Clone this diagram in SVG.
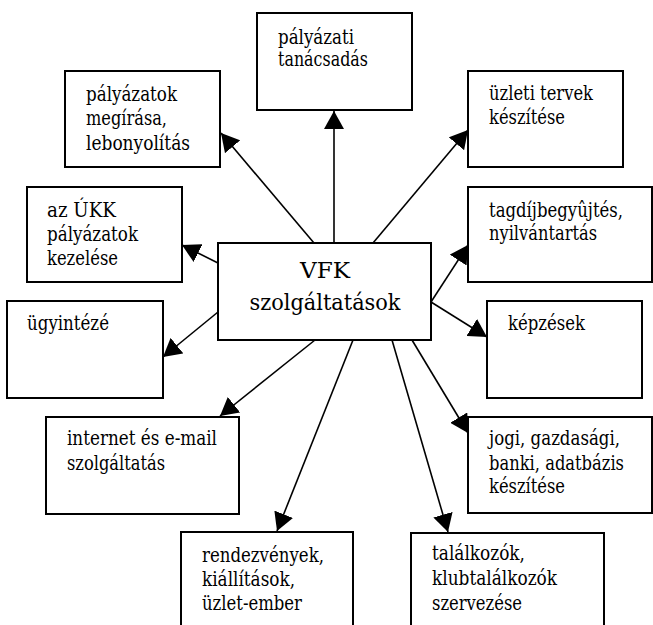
<svg xmlns="http://www.w3.org/2000/svg" width="653" height="625" viewBox="0 0 653 625">
<style>
.box{fill:#fff;stroke:#000;stroke-width:2}
text{font-family:'DejaVu Serif','Liberation Serif',serif;fill:#000}
.t{font-size:19.5px}
.big{font-size:23px;text-anchor:middle}
.c line{stroke:#000;stroke-width:1.6;marker-end:url(#ah)}
</style>
<defs>
<marker id="ah" markerUnits="userSpaceOnUse" markerWidth="19" markerHeight="20" refX="18" refY="10" orient="auto" viewBox="0 0 19 20">
<path d="M0,0 L18,10 L0,20 z" fill="#000"/>
</marker>
</defs>
<rect width="653" height="625" fill="#fff"/>
<g class="c" id="connectors">
<line x1="334" y1="243" x2="334" y2="111"/>
<line x1="373" y1="243" x2="468" y2="130"/>
<line x1="314" y1="243" x2="221" y2="133"/>
<line x1="218" y1="263" x2="182" y2="245"/>
<line x1="218" y1="312" x2="163" y2="357"/>
<line x1="315" y1="340" x2="220" y2="416"/>
<line x1="353" y1="340" x2="277" y2="531"/>
<line x1="392" y1="340" x2="448" y2="532"/>
<line x1="412" y1="340" x2="468" y2="433"/>
<line x1="431" y1="302" x2="487" y2="337"/>
<line x1="431" y1="302" x2="468" y2="245"/>
</g>
<g id="center">
<rect class="box" x="218" y="243" width="213" height="97"/>
<text class="big" x="325" y="278" textLength="50" lengthAdjust="spacingAndGlyphs">VFK</text>
<text class="big" x="325" y="310" textLength="151" lengthAdjust="spacingAndGlyphs">szolgáltatások</text>
</g>
<g id="tanacsadas">
<rect class="box" x="257" y="13" width="155" height="97"/>
<text class="t" x="278" y="44" textLength="76" lengthAdjust="spacingAndGlyphs">pályázati</text>
<text class="t" x="278" y="66" textLength="90" lengthAdjust="spacingAndGlyphs">tanácsadás</text>
</g>
<g id="megirasa">
<rect class="box" x="65" y="71" width="155" height="96"/>
<text class="t" x="86" y="101" textLength="91" lengthAdjust="spacingAndGlyphs">pályázatok</text>
<text class="t" x="86" y="125" textLength="81" lengthAdjust="spacingAndGlyphs">megírása,</text>
<text class="t" x="86" y="150" textLength="104" lengthAdjust="spacingAndGlyphs">lebonyolítás</text>
</g>
<g id="uzleti">
<rect class="box" x="468" y="71" width="155" height="96"/>
<text class="t" x="489" y="100" textLength="104" lengthAdjust="spacingAndGlyphs">üzleti tervek</text>
<text class="t" x="489" y="124" textLength="76" lengthAdjust="spacingAndGlyphs">készítése</text>
</g>
<g id="ukk">
<rect class="box" x="27" y="187" width="155" height="95"/>
<text class="t" x="47" y="217" textLength="69" lengthAdjust="spacingAndGlyphs">az ÚKK</text>
<text class="t" x="47" y="241" textLength="91" lengthAdjust="spacingAndGlyphs">pályázatok</text>
<text class="t" x="47" y="265" textLength="71" lengthAdjust="spacingAndGlyphs">kezelése</text>
</g>
<g id="tagdij">
<rect class="box" x="468" y="187" width="184" height="95"/>
<text class="t" x="489" y="217" textLength="134" lengthAdjust="spacingAndGlyphs">tagdíjbegyûjtés,</text>
<text class="t" x="489" y="240" textLength="108" lengthAdjust="spacingAndGlyphs">nyilvántartás</text>
</g>
<g id="ugyintezes">
<rect class="box" x="7" y="301" width="156" height="97"/>
<text class="t" x="27" y="330" textLength="82" lengthAdjust="spacingAndGlyphs">ügyintézé</text>
</g>
<g id="kepzesek">
<rect class="box" x="487" y="301" width="155" height="97"/>
<text class="t" x="508" y="330" textLength="77" lengthAdjust="spacingAndGlyphs">képzések</text>
</g>
<g id="internet">
<rect class="box" x="46" y="417" width="193" height="97"/>
<text class="t" x="67" y="445" textLength="150" lengthAdjust="spacingAndGlyphs">internet és e-mail</text>
<text class="t" x="67" y="470" textLength="98" lengthAdjust="spacingAndGlyphs">szolgáltatás</text>
</g>
<g id="jogi">
<rect class="box" x="468" y="417" width="184" height="96"/>
<text class="t" x="489" y="445" textLength="131" lengthAdjust="spacingAndGlyphs">jogi, gazdasági,</text>
<text class="t" x="489" y="470" textLength="135" lengthAdjust="spacingAndGlyphs">banki, adatbázis</text>
<text class="t" x="489" y="493" textLength="76" lengthAdjust="spacingAndGlyphs">készítése</text>
</g>
<g id="rendezvenyek">
<rect class="box" x="181" y="532" width="172" height="110"/>
<text class="t" x="202" y="562" textLength="122" lengthAdjust="spacingAndGlyphs">rendezvények,</text>
<text class="t" x="202" y="586" textLength="93" lengthAdjust="spacingAndGlyphs">kiállítások,</text>
<text class="t" x="202" y="610" textLength="100" lengthAdjust="spacingAndGlyphs">üzlet-ember</text>
</g>
<g id="talalkozok">
<rect class="box" x="411" y="533" width="193" height="110"/>
<text class="t" x="432" y="560" textLength="93" lengthAdjust="spacingAndGlyphs">találkozók,</text>
<text class="t" x="432" y="585" textLength="125" lengthAdjust="spacingAndGlyphs">klubtalálkozók</text>
<text class="t" x="432" y="610" textLength="90" lengthAdjust="spacingAndGlyphs">szervezése</text>
</g>
</svg>
